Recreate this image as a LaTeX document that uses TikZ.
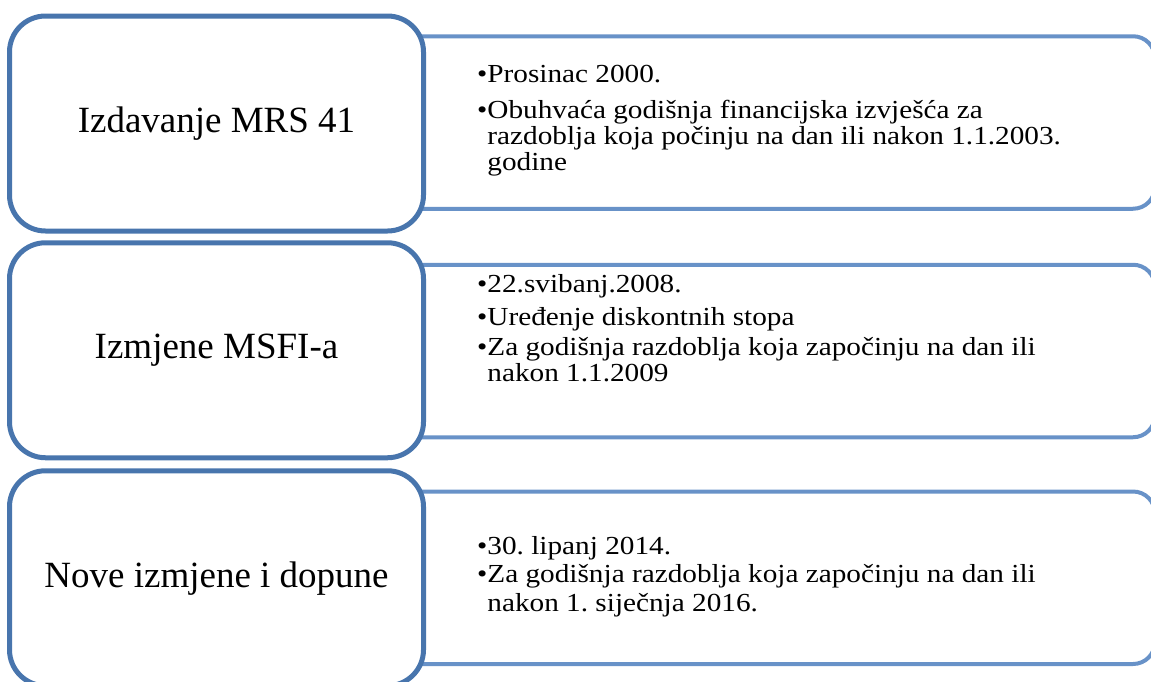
\documentclass[tikz,border=0pt]{standalone}
\usepackage{fontspec}
\setmainfont{Liberation Serif}
\newfontfamily\bodyfont[FakeStretch=1.125]{Liberation Serif}
\frenchspacing
\definecolor{leftblue}{RGB}{72,117,173}
\definecolor{rightblue}{RGB}{104,146,200}
\tikzset{
  leftbox/.style={draw=leftblue, line width=5pt, fill=white, rounded corners=36pt,
    minimum width=414pt, minimum height=215pt, inner sep=0pt,
    font=\fontsize{37}{40}\selectfont},
  rightbox/.style={draw=rightblue, line width=4pt, fill=white, rounded corners=22pt,
    minimum width=775pt, minimum height=172.5pt, inner sep=0pt},
  txtline/.style={font=\bodyfont\fontsize{26}{28}\selectfont, anchor=base west, inner sep=0pt},
}
\newcommand{\bul}{\textbullet}
\newcommand{\ind}{\hphantom{\textbullet}}
\begin{document}
\begin{tikzpicture}[x=1pt,y=-1pt]
\useasboundingbox (0,0) rectangle (1151,681);
\clip (0,0) rectangle (1151,681);
% right boxes (behind)
\node[rightbox] (r1) at (767.5,122.5) {};
\node[rightbox] (r2) at (767.5,351) {};
\node[rightbox] (r3) at (767.5,577.75) {};
% left boxes
\node[leftbox] (l1) at (216.5,123.5) {Izdavanje MRS 41};
\node[leftbox] (l2) at (216.5,350.25) {Izmjene MSFI-a};
\node[leftbox] (l3) at (216.5,578.25) {Nove izmjene i dopune};
% right texts
\node[txtline] (t1a) at (477,82.7) {\bul Prosinac 2000.};
\node[txtline] (t1b) at (477,118.3) {\bul Obuhvaća godišnja financijska izvješća za};
\node[txtline] (t1c) at (477,144.3) {\ind razdoblja koja počinju na dan ili nakon 1.1.2003.};
\node[txtline] (t1d) at (477,170) {\ind godine};
\node[txtline] (t2a) at (477,292.7) {\bul 22.svibanj.2008.};
\node[txtline] (t2b) at (477,325) {\bul Uređenje diskontnih stopa};
\node[txtline] (t2c) at (477,355) {\bul Za godišnja razdoblja koja započinju na dan ili};
\node[txtline] (t2d) at (477,381.7) {\ind nakon 1.1.2009};
\node[txtline] (t3a) at (477,554) {\bul 30. lipanj 2014.};
\node[txtline] (t3b) at (477,582.7) {\bul Za godišnja razdoblja koja započinju na dan ili};
\node[txtline] (t3c) at (477,611) {\ind nakon 1. siječnja 2016.};
\end{tikzpicture}
\end{document}
